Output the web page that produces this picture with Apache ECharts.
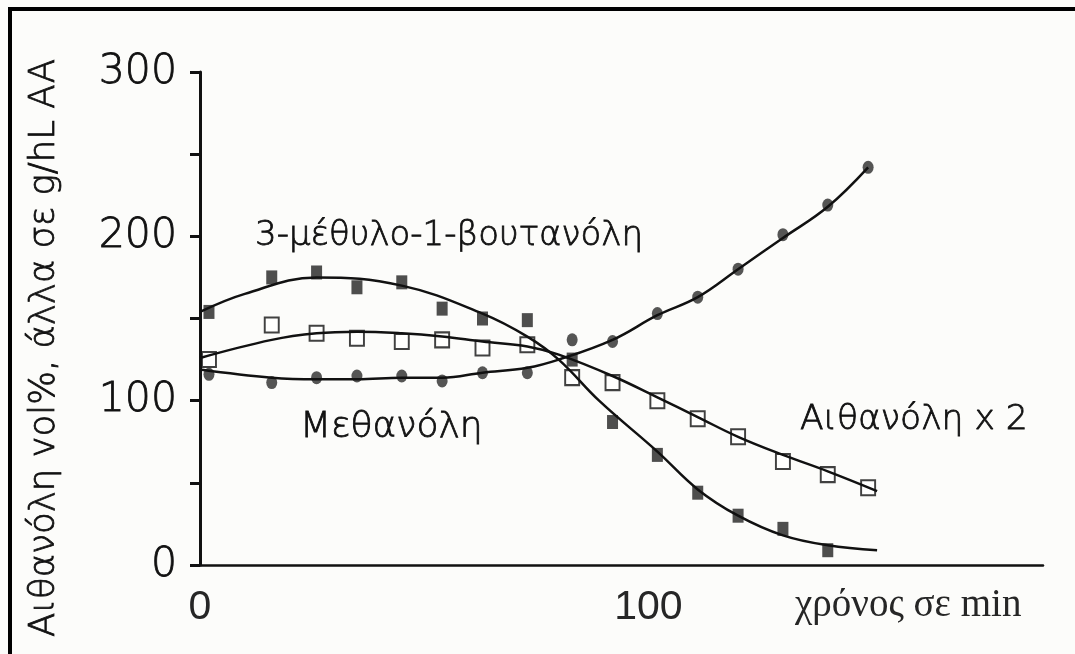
<!DOCTYPE html>
<html>
<head>
<meta charset="utf-8">
<title>chart</title>
<script src="https://cdn.jsdelivr.net/npm/echarts@6/dist/echarts.min.js"></script>
<style>
  html, body {
    margin: 0;
    padding: 0;
    overflow: hidden;
    background: #fcfcfa;
  }
  #main {
    width: 1075px;
    height: 654px;
  }
  #frame {
    position: absolute;
    left: 8px;
    top: 7px;
    width: 1063px;
    height: 643px;
    border-top: 4px solid #000;
    border-left: 4px solid #000;
    pointer-events: none;
  }
</style>
</head>
<body>
<div id="main"></div>
<div id="frame"></div>
<script>
// measured points (time in min)
var timeMin = [2, 16, 26, 35, 45, 54, 63, 73, 83, 92, 102, 111, 120, 130, 140, 149];
var methylButanol = [154, 175, 178, 169, 172, 156, 150, 149, 125, 87, 67, 44, 30, 22, 9];
var ethanolX2 = [125, 146, 141, 138, 136, 137, 132, 134, 114, 111, 100, 89, 78, 63, 55, 47];
var methanol = [116, 111, 114, 115, 115, 112, 117, 117, 137, 136, 153, 163, 180, 201, 219, 242];

// fitted curves
var methylCurveT = [0, 10, 26, 45, 63, 73, 80, 89, 102, 111, 120, 130, 140, 151];
var methylCurve = [154, 165, 175, 170, 153, 139, 125, 100, 69, 46, 30, 18, 12, 9];
var ethanolCurveT = [0, 16, 26, 35, 45, 54, 63, 73, 80, 92, 102, 111, 120, 130, 140, 151];
var ethanolCurve = [126, 137, 141, 142, 141, 139, 136, 133, 128, 115, 102, 90, 78, 67, 57, 45];
var methanolCurveT = [0, 16, 26, 35, 45, 54, 63, 73, 80, 92, 102, 111, 120, 130, 140, 149];
var methanolCurve = [119, 114, 113, 113, 114, 114, 117, 120, 125, 137, 152, 163, 180, 199, 218, 242];

var xLabels = [0, 100];
var yLabels = [0, 100, 200, 300];

function pairs(xs, ys) {
  var out = [];
  for (var i = 0; i < ys.length; i++) {
    out.push([xs[i], ys[i]]);
  }
  return out;
}

var myChart = echarts.init(document.getElementById("main"));
var ink = "#111";
var textInk = "#111";

var option = {
  backgroundColor: "#fcfcfa",
  animation: false,
  grid: {
    left: 200,
    right: 32,
    top: 72,
    bottom: 89,
  },
  xAxis: {
    type: "value",
    min: 0,
    max: 188,
    interval: 100,
    splitLine: { show: false },
    axisTick: { show: false },
    axisLine: {
      show: true,
      onZero: false,
      lineStyle: { color: ink, width: 2.5 },
    },
    axisLabel: {
      margin: 22,
      showMaxLabel: false,
      fontFamily: "Liberation Sans",
      fontSize: 41,
      color: "#262626",
      formatter: function (v) {
        return xLabels.indexOf(v) >= 0 ? String(v) : "";
      },
    },
  },
  yAxis: {
    type: "value",
    min: 0,
    max: 300,
    interval: 50,
    splitLine: { show: false },
    axisLine: {
      show: true,
      lineStyle: { color: ink, width: 3 },
    },
    axisTick: {
      show: true,
      length: 10,
      lineStyle: { color: ink, width: 3 },
    },
    axisLabel: {
      margin: 23,
      fontFamily: "DejaVu Sans",
      fontWeight: 300,
      fontSize: 41,
      color: textInk,
      textBorderColor: textInk,
      textBorderWidth: 0.8,
      formatter: function (v) {
        return yLabels.indexOf(v) >= 0 ? String(v) : "";
      },
    },
  },
  graphic: [
    {
      type: "text",
      x: 45,
      y: 348,
      rotation: Math.PI / 2,
      style: {
        text: "Αιθανόλη vol%, άλλα σε g/hL AA",
        fontFamily: "DejaVu Sans",
        fontWeight: 300,
        fontSize: 35.5,
        fill: textInk,
        stroke: textInk,
        lineWidth: 0.8,
        align: "center",
        verticalAlign: "middle",
      },
    },
    {
      type: "text",
      x: 255,
      y: 236,
      style: {
        text: "3-μέθυλο-1-βουτανόλη",
        fontFamily: "DejaVu Sans",
        fontWeight: 300,
        fontSize: 34,
        fill: textInk,
        stroke: textInk,
        lineWidth: 0.8,
        align: "left",
        verticalAlign: "middle",
      },
    },
    {
      type: "text",
      x: 300,
      y: 428,
      style: {
        text: "Μεθανόλη",
        fontFamily: "DejaVu Sans",
        fontWeight: 300,
        fontSize: 36,
        fill: textInk,
        stroke: textInk,
        lineWidth: 0.8,
        align: "left",
        verticalAlign: "middle",
      },
    },
    {
      type: "text",
      x: 800,
      y: 420,
      style: {
        text: "Αιθανόλη x 2",
        fontFamily: "DejaVu Sans",
        fontWeight: 300,
        fontSize: 34.5,
        fill: textInk,
        stroke: textInk,
        lineWidth: 0.8,
        align: "left",
        verticalAlign: "middle",
      },
    },
    {
      type: "text",
      x: 795,
      y: 606,
      style: {
        text: "χρόνος σε min",
        fontFamily: "Liberation Serif",
        fontSize: 39,
        fill: "#262626",
        align: "left",
        verticalAlign: "middle",
      },
    },
  ],
  series: [
    {
      name: "3-μέθυλο-1-βουτανόλη",
      type: "scatter",
      symbol: "rect",
      symbolSize: [11, 14],
      itemStyle: { color: "#222" },
      data: pairs(timeMin, methylButanol),
      z: 2,
    },
    {
      name: "Αιθανόλη x 2",
      type: "scatter",
      symbol: "rect",
      symbolSize: [14, 15],
      itemStyle: { color: "#fff", borderColor: ink, borderWidth: 2 },
      data: pairs(timeMin, ethanolX2),
      z: 2,
    },
    {
      name: "Μεθανόλη",
      type: "scatter",
      symbol: "circle",
      symbolSize: [11, 13],
      itemStyle: { color: "#2a2a2a" },
      data: pairs(timeMin, methanol),
      z: 2,
    },
    {
      type: "line",
      smooth: 0.4,
      showSymbol: false,
      lineStyle: { color: ink, width: 2.5 },
      data: pairs(methylCurveT, methylCurve),
      z: 3,
    },
    {
      type: "line",
      smooth: 0.4,
      showSymbol: false,
      lineStyle: { color: ink, width: 2.5 },
      data: pairs(ethanolCurveT, ethanolCurve),
      z: 3,
    },
    {
      type: "line",
      smooth: 0.4,
      showSymbol: false,
      lineStyle: { color: ink, width: 2.5 },
      data: pairs(methanolCurveT, methanolCurve),
      z: 3,
    },
  ],
};

myChart.setOption(option);
</script>
</body>
</html>
